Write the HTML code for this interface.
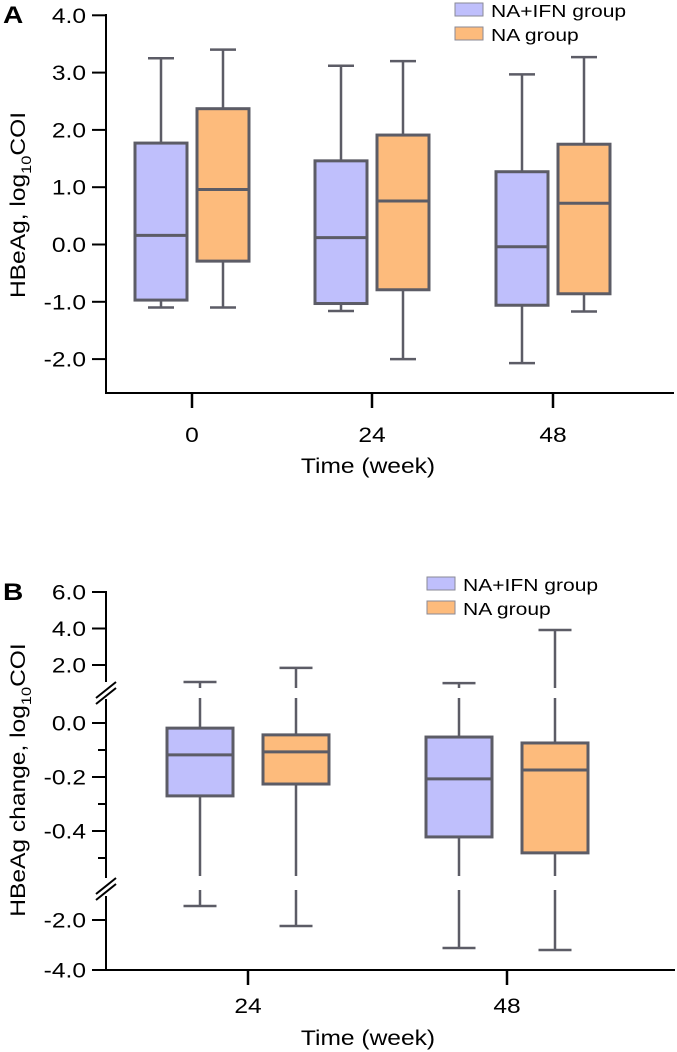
<!DOCTYPE html>
<html><head><meta charset="utf-8"><style>
body{margin:0;background:#fff;}
svg{display:block;font-family:"Liberation Sans",Arial,sans-serif;}
.t{font-size:21px;}
.l{font-size:18px;}
.s{font-size:14px;}
.p{font-size:24px;font-weight:bold;}
</style></head><body>
<svg id="chart" width="677" height="1052" viewBox="0 0 677 1052" xmlns="http://www.w3.org/2000/svg">
<g id="pa"></g>
<g id="pb"></g>
</svg>
<script>
// Panel A data
const catsA = ["0","24","48"];
const ifnA = [ // [min, q1, median, q3, max]
  [-1.1,-0.97,0.16,1.77,3.25],
  [-1.16,-1.03,0.12,1.46,3.12],
  [-2.07,-1.06,-0.04,1.27,2.97]];
const naA = [
  [-1.1,-0.29,0.96,2.37,3.4],
  [-2.0,-0.79,0.76,1.91,3.2],
  [-1.17,-0.86,0.72,1.75,3.27]];
const ticksA = [4,3,2,1,0,-1,-2];
// Panel B data
const catsB = ["24","48"];
const ifnB = [
  [-1.44,-0.27,-0.118,-0.019,1.07],
  [-3.12,-0.422,-0.207,-0.052,1.01]];
const naB = [
  [-2.24,-0.226,-0.107,-0.044,1.84],
  [-3.2,-0.481,-0.174,-0.074,3.92]];
const ticksBMajor = [6,4,2,0,-0.2,-0.4,-2,-4];
const ticksBMinor = [-0.1,-0.3,-0.5];

const NS="http://www.w3.org/2000/svg";
const PURPLE="#bfbffc", ORANGE="#fdbb7c", STROKE="#5c5c66";
const SX=1.17;
function mk(parent,tag,attrs,text){const e=document.createElementNS(NS,tag);for(const k in attrs)e.setAttribute(k,attrs[k]);if(text!==undefined)e.textContent=text;parent.appendChild(e);return e;}
function txt(parent,x,y,cls,anchor,text){
  return mk(parent,'text',{x:0,y:0,'class':cls,'text-anchor':anchor,transform:'translate('+x+','+y+') scale('+SX+',1)'},text);
}
function fmt(v){return v.toFixed(1);}

function box(g,cx,w,y,d,fill,gaps,name){
  const bg=mk(g,'g',{});
  
  
  const yMin=y(d[0]),yQ1=y(d[1]),yMed=y(d[2]),yQ3=y(d[3]),yMax=y(d[4]);
  const wl=mk(bg,'line',{x1:cx,x2:cx,y1:yMax,y2:yMin,stroke:STROKE,'stroke-width':2.5});
  
  
  const cw=w/2;
  mk(bg,'line',{x1:cx-cw/2,x2:cx+cw/2,y1:yMax,y2:yMax,stroke:STROKE,'stroke-width':2.5});
  mk(bg,'line',{x1:cx-cw/2,x2:cx+cw/2,y1:yMin,y2:yMin,stroke:STROKE,'stroke-width':2.5});
  (gaps||[]).forEach(gp=>{mk(bg,'rect',{x:cx-3,y:gp[0],width:6,height:gp[1]-gp[0],fill:'#fff'});});
  const r=mk(bg,'rect',{x:cx-w/2,y:yQ3,width:w,height:yQ1-yQ3,fill:fill,stroke:STROKE,'stroke-width':3});
  
  
  mk(bg,'line',{x1:cx-w/2,x2:cx+w/2,y1:yMed,y2:yMed,stroke:STROKE,'stroke-width':3});
}

function legend(g,x,y){
  const items=[["NA+IFN group",PURPLE],["NA group",ORANGE]];
  items.forEach((it,i)=>{
    const lg=mk(g,'g',{});
    
    
    mk(lg,'rect',{x:x,y:y+i*24,width:28,height:13,fill:it[1],stroke:'#8a8a96','stroke-width':1});
    txt(lg,x+36,y+i*24+14,'l','start',it[0]);
  });
}

function yTitle(g,cy,label){
  const yt=mk(g,'text',{x:0,y:0,'class':'t','text-anchor':'middle',transform:'translate(25,'+cy+') rotate(-90) scale('+SX+',1)',});
  mk(yt,'tspan',{},label+'log');
  mk(yt,'tspan',{'class':'s',dy:6},'10');
  mk(yt,'tspan',{dy:-6},'COI');
}

// ---- Panel A ----
(function(){
  const g=document.getElementById('pa');
  const y=v=>244.5-v*57.3;
  const xPos=[192,372,553];
  const ax=mk(g,'g',{});
  
  
  mk(ax,'line',{x1:106,x2:106,y1:14,y2:394,stroke:'#000','stroke-width':2});
  ticksA.forEach(t=>{
    mk(ax,'line',{x1:92,x2:106,y1:y(t),y2:y(t),stroke:'#000','stroke-width':2});
    txt(ax,86,y(t)+7.5,'t','end',fmt(t));
  });
  const xa=mk(g,'g',{});
  
  
  mk(xa,'line',{x1:105,x2:674,y1:393,y2:393,stroke:'#000','stroke-width':2});
  catsA.forEach((c,i)=>{
    mk(xa,'line',{x1:xPos[i],x2:xPos[i],y1:393,y2:408,stroke:'#000','stroke-width':2.5});
    txt(xa,xPos[i],442,'t','middle',c);
    box(g,xPos[i]-31,52,y,ifnA[i],PURPLE,[],'box-ifn-week-'+c);
    box(g,xPos[i]+31,52,y,naA[i],ORANGE,[],'box-na-week-'+c);
  });
  const xt=txt(g,368,473,'t','middle','Time (week)');
  
  
  yTitle(g,205,'HBeAg, ');
  const pl=txt(g,3,23,'p','start','A');
  
  
  const lg=mk(g,'g',{});
  legend(lg,455,3);
})();

// ---- Panel B ----
(function(){
  const g=document.getElementById('pb');
  const y=v=>{ if(v>=0.9) return 701.5-v*18.25; if(v>=-0.7) return 723-v*270; return 870-v*25; };
  const xPos=[248,507];
  const ax=mk(g,'g',{});
  
  
  mk(ax,'line',{x1:106,x2:106,y1:591,y2:682,stroke:'#000','stroke-width':2});
  mk(ax,'line',{x1:106,x2:106,y1:699,y2:878,stroke:'#000','stroke-width':2});
  mk(ax,'line',{x1:106,x2:106,y1:896,y2:971,stroke:'#000','stroke-width':2});
  [[684],[880]].forEach(b=>{
    mk(ax,'line',{x1:96,x2:116,y1:b[0]+14,y2:b[0]-2,stroke:'#000','stroke-width':2});
    mk(ax,'line',{x1:96,x2:116,y1:b[0]+20,y2:b[0]+4,stroke:'#000','stroke-width':2});
  });
  ticksBMajor.forEach(t=>{
    mk(ax,'line',{x1:92,x2:106,y1:y(t),y2:y(t),stroke:'#000','stroke-width':2});
    txt(ax,86,y(t)+7.5,'t','end',fmt(t));
  });
  ticksBMinor.forEach(t=>{
    mk(ax,'line',{x1:98,x2:106,y1:y(t),y2:y(t),stroke:'#000','stroke-width':2});
  });
  const xa=mk(g,'g',{});
  
  
  mk(xa,'line',{x1:105,x2:675,y1:970,y2:970,stroke:'#000','stroke-width':2});
  const gaps=[[688,698],[876,890]];
  catsB.forEach((c,i)=>{
    mk(xa,'line',{x1:xPos[i],x2:xPos[i],y1:970,y2:985,stroke:'#000','stroke-width':2.5});
    txt(xa,xPos[i],1013,'t','middle',c);
    box(g,xPos[i]-48,66,y,ifnB[i],PURPLE,gaps,'box-ifn-change-week-'+c);
    box(g,xPos[i]+48,66,y,naB[i],ORANGE,gaps,'box-na-change-week-'+c);
  });
  const xt=txt(g,368,1045,'t','middle','Time (week)');
  
  
  yTitle(g,780,'HBeAg change, ');
  const pl=txt(g,3,600,'p','start','B');
  
  
  const lg=mk(g,'g',{});
  legend(lg,427,577);
})();
</script>
</body></html>
